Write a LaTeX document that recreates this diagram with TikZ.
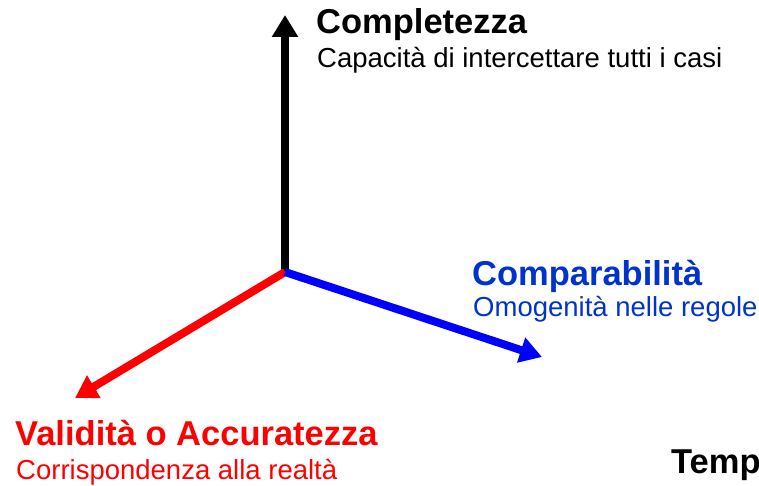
\documentclass[tikz,border=0pt]{standalone}
\usepackage{fontspec}
\setmainfont{Liberation Sans}
\newfontfamily\labfont{Liberation Sans}
\usetikzlibrary{arrows.meta}
\definecolor{axred}{RGB}{255,0,0}
\definecolor{axblue}{RGB}{0,0,255}
\definecolor{txtblue}{RGB}{0,51,204}
\tikzset{
  axis/.style={line width=8pt, -{Triangle[length=22pt,width=25pt]}},
  title/.style={anchor=base west, inner sep=0pt, font=\labfont\fontsize{34.5}{38}\selectfont\bfseries},
  sub/.style={anchor=base west, inner sep=0pt, font=\labfont\fontsize{27.5}{31}\selectfont},
}
\begin{document}
\begin{tikzpicture}[x=1pt,y=-1pt]
\useasboundingbox (0,0) rectangle (759,486);
\clip (0,0) rectangle (759,486);
\coordinate (O) at (285,272);
\coordinate (top) at (285,15);
\coordinate (right) at (542,357);
\coordinate (left) at (75,398);
\draw[axis, black] (O) -- (top);
\draw[axis, axred] (O) -- (left);
\draw[axis, axblue] (O) -- (right);
\node[title] (t1) at (316,34) {Completezza};
\node[sub] (s1) at (317,68) {Capacità di intercettare tutti i casi};
\node[title, text=txtblue] (t2) at (472,285) {Comparabilità};
\node[sub, text=txtblue] (s2) at (473,316) {Omogenità nelle regole};
\node[title, text=axred] (t3) at (15,445) {Validità o Accuratezza};
\node[sub, text=axred] (s3) at (16,479) {Corrispondenza alla realtà};
\node[title] (t4) at (671,473) {Temp};
\end{tikzpicture}
\end{document}
